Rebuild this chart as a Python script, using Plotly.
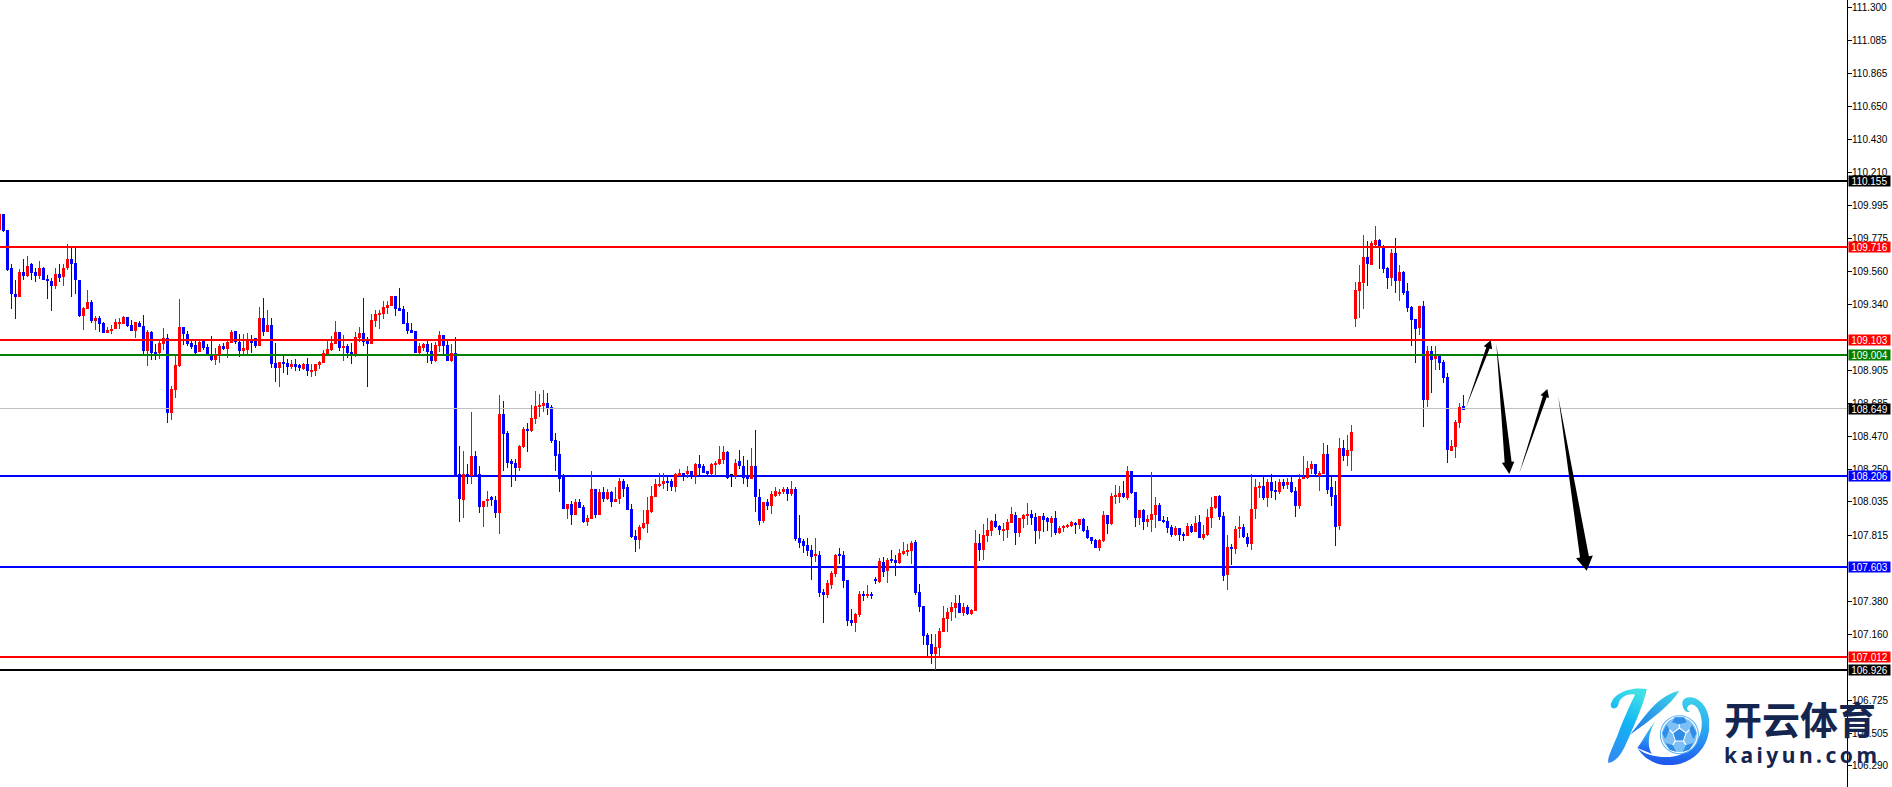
"""USD/JPY style candlestick chart with support and resistance levels and projected path arrows."""

import base64
import math

import plotly.graph_objects as go

WIDTH = 1892
HEIGHT = 787
AXIS_X = 1847

COLORS = {
    "up": "#ff0000",
    "down": "#0000ff",
    "green": "#008000",
    "black": "#000000",
    "silver": "#c0c0c0",
    "brand": "#14264f",
}

opens = [
    109.830, 109.936, 109.830, 109.583, 109.411, 109.389, 109.552, 109.526, 109.605, 109.552,
    109.526, 109.583, 109.504, 109.497, 109.460, 109.543, 109.519, 109.583, 109.643, 109.612,
    109.504, 109.261, 109.307, 109.354, 109.228, 109.248, 109.215, 109.149, 109.162, 109.175,
    109.215, 109.213, 109.255, 109.202, 109.162, 109.215, 109.195, 109.030, 109.155, 109.023,
    109.016, 109.076, 109.116, 108.619, 108.771, 108.930, 109.188, 109.142, 109.082, 109.069,
    109.023, 109.096, 109.056, 108.996, 108.970, 109.007, 109.063, 109.043, 109.082, 109.162,
    109.089, 109.030, 109.036, 109.102, 109.116, 109.063, 109.248, 109.155, 109.202, 108.950,
    108.917, 108.957, 108.950, 108.930, 108.943, 108.937, 108.910, 108.943, 108.897, 108.897,
    108.937, 108.950, 109.010, 109.036, 109.076, 109.155, 109.056, 109.063, 109.023, 109.010,
    109.116, 109.149, 109.096, 109.076, 109.228, 109.274, 109.274, 109.321, 109.327, 109.393,
    109.314, 109.307, 109.215, 109.168, 109.162, 109.016, 109.049, 109.076, 109.030, 108.963,
    109.063, 109.135, 109.069, 108.963, 109.016,
    108.216, 108.050, 108.222, 108.209, 108.335, 108.216, 108.004, 108.044, 108.064, 108.050,
    107.964, 108.613, 108.487, 108.302, 108.289, 108.262, 108.395, 108.514, 108.500, 108.580,
    108.659, 108.666, 108.686, 108.659, 108.441, 108.348, 108.209, 107.991, 108.024, 107.945,
    108.037, 108.004, 107.905, 107.925, 108.123, 107.945, 108.097, 108.057, 108.103, 108.037,
    108.057, 108.176, 108.130, 107.991, 107.812, 107.786, 107.865, 107.892, 107.971, 108.070,
    108.143, 108.150, 108.170, 108.170, 108.130, 108.209, 108.229, 108.216, 108.242, 108.203,
    108.282, 108.269, 108.236, 108.216, 108.276, 108.282, 108.309, 108.362, 108.212, 108.203,
    108.302, 108.275, 108.203, 108.189, 108.275, 108.070, 107.911, 108.031, 108.011, 108.077,
    108.084, 108.097, 108.117, 108.090, 108.123, 107.799, 107.779, 107.753, 107.720, 107.680,
    107.686, 107.442, 107.422, 107.488, 107.561, 107.686, 107.686, 107.521, 107.256, 107.236,
    107.289, 107.428, 107.415, 107.422, 107.528, 107.508, 107.640, 107.581, 107.660, 107.653,
    107.634, 107.693, 107.706,
    107.713, 107.772, 107.441, 107.349, 107.157, 107.097, 107.031, 107.071, 107.177, 107.263,
    107.309, 107.335, 107.369, 107.302, 107.342, 107.296, 107.316, 107.766, 107.719, 107.812,
    107.845, 107.911, 107.878, 107.845, 107.852, 107.898, 107.951, 107.832, 107.924, 107.944,
    107.958, 107.938, 107.845, 107.944, 107.931, 107.898, 107.931, 107.832, 107.865, 107.871,
    107.878, 107.898, 107.885, 107.924, 107.852, 107.805, 107.785, 107.732, 107.779, 107.951,
    107.891, 108.070, 108.070, 108.096, 108.063, 108.242, 108.103, 107.931, 107.984, 107.905,
    107.918, 107.951, 108.017, 107.918, 107.911, 107.871, 107.819, 107.865, 107.825, 107.812,
    107.878, 107.838, 107.905, 107.799, 107.819, 107.931, 107.997, 108.077, 107.944, 107.554,
    107.739, 107.726, 107.858, 107.871, 107.805, 107.759, 107.991, 108.130, 108.143, 108.063,
    108.163, 108.116, 108.103, 108.169, 108.149, 108.169, 108.110, 108.010, 108.189, 108.196,
    108.249, 108.282, 108.209, 108.222, 108.348, 108.130, 108.083, 107.878, 108.388, 108.341,
    108.368,
    109.242, 109.427, 109.480, 109.652, 109.599, 109.731, 109.764, 109.725, 109.579, 109.513,
    109.678, 109.493, 109.553, 109.427, 109.321, 109.242, 109.182, 109.328, 108.706, 109.030,
    108.977, 108.997, 108.957, 108.858, 108.368, 108.395, 108.553, 108.666,
]
highs = [
    109.936, 109.936, 109.830, 109.605, 109.504, 109.572, 109.643, 109.658, 109.612, 109.583,
    109.625, 109.590, 109.537, 109.513, 109.583, 109.605, 109.605, 109.738, 109.716, 109.716,
    109.504, 109.323, 109.438, 109.367, 109.261, 109.261, 109.221, 109.188, 109.202, 109.241,
    109.248, 109.266, 109.255, 109.235, 109.221, 109.228, 109.268, 109.173, 109.162, 109.076,
    109.102, 109.182, 109.142, 108.802, 108.996, 109.374, 109.188, 109.162, 109.096, 109.109,
    109.096, 109.102, 109.076, 109.129, 109.049, 109.076, 109.082, 109.096, 109.168, 109.162,
    109.142, 109.142, 109.149, 109.135, 109.116, 109.321, 109.380, 109.301, 109.248, 109.082,
    108.957, 108.999, 108.977, 108.970, 108.977, 108.943, 108.950, 108.983, 108.943, 108.943,
    108.963, 109.036, 109.102, 109.129, 109.228, 109.155, 109.135, 109.076, 109.082, 109.155,
    109.188, 109.380, 109.122, 109.274, 109.301, 109.301, 109.360, 109.360, 109.393, 109.393,
    109.446, 109.327, 109.288, 109.215, 109.162, 109.082, 109.082, 109.102, 109.082, 109.089,
    109.162, 109.135, 109.102, 109.076, 109.122,
    108.401, 108.368, 108.282, 108.626, 108.368, 108.269, 108.044, 108.110, 108.077, 108.077,
    108.739, 108.699, 108.500, 108.315, 108.315, 108.414, 108.527, 108.553, 108.673, 108.765,
    108.745, 108.772, 108.752, 108.673, 108.487, 108.434, 108.216, 108.024, 108.044, 108.057,
    108.057, 108.017, 107.951, 108.236, 108.123, 108.117, 108.130, 108.123, 108.110, 108.136,
    108.196, 108.189, 108.150, 108.024, 107.852, 107.885, 107.984, 108.064, 108.143, 108.189,
    108.229, 108.223, 108.209, 108.183, 108.223, 108.249, 108.229, 108.269, 108.242, 108.295,
    108.342, 108.282, 108.236, 108.289, 108.302, 108.401, 108.401, 108.368, 108.216, 108.315,
    108.381, 108.335, 108.309, 108.388, 108.507, 108.123, 108.031, 108.057, 108.110, 108.130,
    108.123, 108.130, 108.136, 108.170, 108.130, 107.945, 107.792, 107.799, 107.753, 107.799,
    107.713, 107.462, 107.521, 107.581, 107.693, 107.733, 107.713, 107.521, 107.329, 107.303,
    107.448, 107.448, 107.488, 107.442, 107.541, 107.667, 107.673, 107.667, 107.720, 107.686,
    107.726, 107.772, 107.759,
    107.779, 107.785, 107.494, 107.349, 107.170, 107.163, 107.163, 107.203, 107.349, 107.335,
    107.375, 107.422, 107.422, 107.369, 107.355, 107.329, 107.852, 107.825, 107.891, 107.931,
    107.918, 107.958, 107.885, 107.898, 107.924, 108.004, 107.971, 107.931, 107.958, 108.030,
    107.984, 107.964, 107.944, 107.964, 107.938, 107.944, 107.977, 107.878, 107.885, 107.891,
    107.911, 107.905, 107.924, 107.931, 107.878, 107.805, 107.792, 107.792, 107.977, 107.951,
    108.096, 108.149, 108.143, 108.176, 108.275, 108.242, 108.103, 107.984, 107.991, 107.951,
    108.235, 108.070, 108.030, 107.944, 107.938, 107.885, 107.878, 107.865, 107.838, 107.898,
    107.891, 107.944, 107.951, 107.885, 107.991, 108.070, 108.077, 108.083, 107.971, 107.819,
    107.759, 107.878, 107.944, 107.891, 107.832, 108.222, 108.183, 108.163, 108.209, 108.183,
    108.222, 108.176, 108.183, 108.189, 108.196, 108.202, 108.130, 108.222, 108.341, 108.302,
    108.308, 108.288, 108.242, 108.421, 108.414, 108.202, 108.176, 108.460, 108.441, 108.480,
    108.540,
    109.486, 109.599, 109.798, 109.758, 109.758, 109.857, 109.771, 109.731, 109.586, 109.705,
    109.778, 109.599, 109.559, 109.480, 109.328, 109.242, 109.328, 109.361, 109.063, 109.063,
    109.063, 109.003, 108.970, 108.884, 108.447, 108.573, 108.686, 108.739,
]
lows = [
    109.830, 109.817, 109.559, 109.310, 109.243, 109.389, 109.499, 109.521, 109.499, 109.486,
    109.510, 109.499, 109.376, 109.296, 109.442, 109.486, 109.460, 109.566, 109.389, 109.407,
    109.255, 109.169, 109.307, 109.215, 109.169, 109.155, 109.149, 109.149, 109.146, 109.175,
    109.175, 109.208, 109.188, 109.162, 109.116, 109.188, 109.010, 108.930, 108.970, 108.970,
    108.977, 109.036, 108.553, 108.573, 108.718, 108.924, 109.069, 109.063, 109.047, 109.010,
    109.023, 109.036, 109.003, 108.963, 108.937, 108.950, 109.036, 108.983, 109.082, 109.076,
    108.992, 109.010, 109.010, 109.016, 109.049, 109.063, 109.129, 109.155, 108.917, 108.824,
    108.791, 108.884, 108.871, 108.910, 108.897, 108.897, 108.904, 108.864, 108.857, 108.864,
    108.910, 108.950, 109.010, 109.030, 109.076, 109.030, 108.963, 108.983, 108.943, 108.990,
    109.089, 109.063, 108.791, 109.076, 109.188, 109.175, 109.241, 109.274, 109.327, 109.261,
    109.294, 109.208, 109.142, 109.149, 109.016, 109.010, 109.030, 108.950, 108.943, 108.957,
    109.023, 109.010, 108.963, 108.957, 108.203,
    107.905, 107.931, 108.150, 108.156, 108.203, 107.964, 107.872, 108.004, 108.011, 107.931,
    107.825, 108.242, 108.256, 108.136, 108.170, 108.236, 108.388, 108.362, 108.494, 108.547,
    108.593, 108.626, 108.606, 108.421, 108.242, 108.097, 107.991, 107.925, 107.885, 107.945,
    107.997, 107.898, 107.878, 107.925, 107.931, 107.945, 108.031, 108.050, 108.004, 108.037,
    108.024, 108.064, 107.978, 107.799, 107.706, 107.726, 107.859, 107.832, 107.964, 108.064,
    108.136, 108.123, 108.110, 108.110, 108.097, 108.203, 108.170, 108.196, 108.183, 108.150,
    108.203, 108.223, 108.203, 108.203, 108.209, 108.276, 108.282, 108.183, 108.130, 108.183,
    108.249, 108.156, 108.130, 108.183, 107.971, 107.885, 107.898, 107.978, 107.958, 108.070,
    108.077, 108.084, 108.044, 108.077, 107.779, 107.733, 107.700, 107.680, 107.521, 107.640,
    107.409, 107.236, 107.402, 107.462, 107.541, 107.627, 107.468, 107.217, 107.217, 107.177,
    107.276, 107.382, 107.402, 107.395, 107.495, 107.501, 107.541, 107.501, 107.634, 107.548,
    107.627, 107.686, 107.680,
    107.627, 107.421, 107.309, 107.091, 107.011, 106.965, 106.925, 107.011, 107.177, 107.177,
    107.249, 107.269, 107.302, 107.283, 107.289, 107.289, 107.316, 107.647, 107.653, 107.772,
    107.812, 107.865, 107.819, 107.779, 107.799, 107.898, 107.752, 107.805, 107.865, 107.885,
    107.885, 107.759, 107.792, 107.838, 107.845, 107.805, 107.819, 107.825, 107.838, 107.865,
    107.871, 107.825, 107.858, 107.838, 107.792, 107.759, 107.732, 107.713, 107.772, 107.825,
    107.885, 108.024, 108.030, 108.063, 108.050, 108.090, 107.871, 107.885, 107.852, 107.871,
    107.838, 107.865, 107.911, 107.898, 107.832, 107.805, 107.812, 107.779, 107.779, 107.812,
    107.832, 107.838, 107.799, 107.785, 107.812, 107.865, 107.991, 107.918, 107.514, 107.455,
    107.620, 107.693, 107.799, 107.799, 107.739, 107.719, 107.924, 108.063, 108.050, 108.004,
    108.063, 108.050, 108.090, 108.123, 108.123, 108.096, 107.938, 107.991, 108.183, 108.189,
    108.222, 108.209, 108.110, 108.216, 108.090, 108.010, 107.746, 107.852, 108.308, 108.275,
    108.242,
    109.189, 109.248, 109.308, 109.460, 109.599, 109.725, 109.573, 109.546, 109.440, 109.460,
    109.414, 109.361, 109.400, 109.288, 109.063, 108.950, 109.136, 108.527, 108.659, 108.752,
    108.904, 108.904, 108.818, 108.295, 108.368, 108.322, 108.520, 108.639,
]
closes = [
    109.936, 109.824, 109.570, 109.409, 109.389, 109.557, 109.526, 109.596, 109.548, 109.526,
    109.583, 109.499, 109.495, 109.460, 109.543, 109.513, 109.583, 109.643, 109.605, 109.499,
    109.261, 109.318, 109.354, 109.228, 109.248, 109.208, 109.149, 109.168, 109.180, 109.221,
    109.221, 109.255, 109.195, 109.162, 109.221, 109.188, 109.030, 109.155, 109.016, 109.014,
    109.082, 109.116, 108.619, 108.778, 108.937, 109.188, 109.142, 109.076, 109.056, 109.021,
    109.089, 109.049, 109.010, 108.970, 109.003, 109.063, 109.043, 109.089, 109.155, 109.089,
    109.030, 109.049, 109.102, 109.089, 109.063, 109.248, 109.155, 109.202, 108.943, 108.917,
    108.957, 108.943, 108.924, 108.943, 108.930, 108.917, 108.943, 108.897, 108.904, 108.943,
    108.957, 109.016, 109.043, 109.082, 109.155, 109.049, 109.063, 109.016, 109.010, 109.122,
    109.149, 109.089, 109.076, 109.235, 109.274, 109.281, 109.321, 109.334, 109.393, 109.307,
    109.294, 109.208, 109.162, 109.155, 109.016, 109.063, 109.076, 109.023, 108.963, 109.069,
    109.135, 109.063, 108.963, 109.016, 108.209,
    108.057, 108.216, 108.203, 108.335, 108.203, 108.004, 108.044, 108.053, 108.050, 107.964,
    108.613, 108.481, 108.295, 108.289, 108.262, 108.401, 108.514, 108.500, 108.587, 108.666,
    108.673, 108.686, 108.653, 108.434, 108.335, 108.183, 107.991, 108.024, 107.945, 108.037,
    107.997, 107.905, 107.931, 108.123, 107.945, 108.097, 108.057, 108.103, 108.037, 108.057,
    108.176, 108.123, 107.984, 107.806, 107.786, 107.872, 107.898, 107.978, 108.077, 108.150,
    108.156, 108.170, 108.163, 108.130, 108.216, 108.229, 108.216, 108.242, 108.203, 108.282,
    108.262, 108.229, 108.216, 108.282, 108.295, 108.315, 108.362, 108.196, 108.212, 108.295,
    108.269, 108.196, 108.189, 108.275, 108.064, 107.911, 108.031, 108.011, 108.084, 108.110,
    108.103, 108.117, 108.090, 108.123, 107.792, 107.766, 107.746, 107.713, 107.673, 107.686,
    107.435, 107.422, 107.501, 107.567, 107.686, 107.680, 107.514, 107.250, 107.236, 107.296,
    107.428, 107.415, 107.428, 107.415, 107.514, 107.647, 107.574, 107.653, 107.647, 107.634,
    107.700, 107.713, 107.720,
    107.766, 107.435, 107.342, 107.150, 107.091, 107.031, 107.077, 107.183, 107.269, 107.309,
    107.342, 107.369, 107.302, 107.342, 107.296, 107.322, 107.766, 107.719, 107.819, 107.852,
    107.911, 107.872, 107.852, 107.858, 107.905, 107.958, 107.832, 107.931, 107.951, 107.951,
    107.931, 107.845, 107.944, 107.918, 107.905, 107.931, 107.832, 107.865, 107.878, 107.885,
    107.905, 107.885, 107.924, 107.845, 107.799, 107.779, 107.732, 107.785, 107.951, 107.891,
    108.077, 108.077, 108.096, 108.070, 108.242, 108.096, 107.931, 107.984, 107.905, 107.924,
    107.958, 108.017, 107.911, 107.905, 107.865, 107.819, 107.865, 107.819, 107.812, 107.878,
    107.838, 107.898, 107.799, 107.825, 107.938, 108.004, 108.077, 107.938, 107.547, 107.739,
    107.726, 107.858, 107.871, 107.805, 107.759, 107.991, 108.136, 108.143, 108.063, 108.163,
    108.110, 108.103, 108.169, 108.143, 108.169, 108.103, 108.010, 108.189, 108.196, 108.262,
    108.288, 108.216, 108.229, 108.348, 108.116, 108.070, 107.871, 108.388, 108.341, 108.375,
    108.494,
    109.434, 109.486, 109.652, 109.606, 109.745, 109.764, 109.725, 109.573, 109.513, 109.678,
    109.493, 109.553, 109.414, 109.314, 109.235, 109.175, 109.328, 108.706, 109.030, 108.970,
    108.997, 108.950, 108.851, 108.375, 108.401, 108.560, 108.659, 108.639,
]

level_values = [110.155, 109.716, 109.103, 109.004, 108.206, 107.603, 107.012, 106.926]
level_colors = ["black", "up", "up", "green", "down", "down", "up", "black"]
bid_price = 108.649

# 109.125, 107.600 and 106.945 sit fully behind the level boxes, so they are not listed
tick_labels = [
    "111.300", "111.085", "110.865", "110.650", "110.430", "110.210", "109.995", "109.775",
    "109.560", "109.340", "108.905", "108.685", "108.470", "108.250", "108.035",
    "107.815", "107.380", "107.160", "106.725", "106.505", "106.290",
]


def to_paper(x, y):
    return x / WIDTH, 1 - y / HEIGHT


def arrow_path(start, tip, shaft, head_len, head_width):
    """Tapered arrow: a point at the start, widening up to the head."""
    dx, dy = tip[0] - start[0], tip[1] - start[1]
    length = math.hypot(dx, dy)
    ux, uy = dx / length, dy / length
    nx, ny = -uy, ux
    bx, by = tip[0] - ux * head_len, tip[1] - uy * head_len
    points = [
        start,
        (bx + nx * shaft / 2, by + ny * shaft / 2),
        (bx + nx * head_width / 2, by + ny * head_width / 2),
        tip,
        (bx - nx * head_width / 2, by - ny * head_width / 2),
        (bx - nx * shaft / 2, by - ny * shaft / 2),
    ]
    coords = [to_paper(px, py) for px, py in points]
    return "M " + " L ".join(f"{a:.5f} {b:.5f}" for a, b in coords) + " Z"


def candle_traces(indices, color, yaxis="y"):
    """Candles as two bar traces: Candlestick gives no control over the 3px body."""
    wick = go.Bar(
        x=indices,
        y=[highs[i] - lows[i] for i in indices],
        base=[lows[i] for i in indices],
        width=0.25,
        marker=dict(color=color, line=dict(width=0)),
        showlegend=False,
        yaxis=yaxis,
    )
    body = go.Bar(
        x=indices,
        y=[abs(closes[i] - opens[i]) or 0.004 for i in indices],
        base=[min(opens[i], closes[i]) for i in indices],
        width=0.75,
        marker=dict(color=color, line=dict(width=0)),
        showlegend=False,
        yaxis=yaxis,
    )
    return [wick, body]


bars = list(range(len(opens)))
up_bars = [i for i in bars if closes[i] > opens[i]]
down_bars = [i for i in bars if closes[i] < opens[i]]
flat_bars = [i for i in bars if closes[i] == opens[i]]

x_min = 0.125
x_max = (AXIS_X + 0.5) / 4
y_min = 106.151
y_max = 111.351

fig = go.Figure()

# blue candles sit under the level lines, red ones over them
fig.add_traces(candle_traces(down_bars, COLORS["down"]))
fig.add_traces(candle_traces(flat_bars, COLORS["black"]))

fig.add_trace(
    go.Scatter(
        x=[x_min, x_max],
        y=[bid_price, bid_price],
        mode="lines",
        line=dict(color=COLORS["silver"], width=1),
        showlegend=False,
    )
)
for value, color in zip(level_values, level_colors):
    fig.add_trace(
        go.Scatter(
            x=[x_min, x_max],
            y=[value, value],
            mode="lines",
            line=dict(color=COLORS[color], width=2),
            showlegend=False,
        )
    )

fig.add_traces(candle_traces(up_bars, COLORS["up"], yaxis="y2"))

# price boxes on the axis
label_x = (AXIS_X + 22) / WIDTH
annotations = []
for value, color in list(zip(level_values, level_colors)) + [(bid_price, "black")]:
    annotations.append(
        dict(
            x=label_x,
            xref="paper",
            xanchor="center",
            y=value,
            yref="y",
            yanchor="middle",
            text=f"{value:.3f}",
            showarrow=False,
            font=dict(family="Liberation Sans", size=10, color="white"),
            bgcolor=COLORS[color],
            width=41,
            height=10,
            borderpad=0,
        )
    )

# watermark logo
LOGO_SVG = """<svg xmlns="http://www.w3.org/2000/svg" viewBox="80 865 308 232">
<defs>
<linearGradient id="a" x1="0.6" y1="0" x2="0.3" y2="1"><stop offset="0" stop-color="#3fe0e6"/><stop offset="0.45" stop-color="#12b4f5"/><stop offset="1" stop-color="#2f8cf0"/></linearGradient>
<linearGradient id="b" x1="1" y1="0" x2="0" y2="1"><stop offset="0" stop-color="#3fd8e8"/><stop offset="1" stop-color="#1a6fe8"/></linearGradient>
<linearGradient id="c" x1="0.6" y1="0" x2="0.5" y2="1"><stop offset="0" stop-color="#3cd0ea"/><stop offset="0.5" stop-color="#2aa0f2"/><stop offset="1" stop-color="#1f55ee"/></linearGradient>
</defs>
<path fill="url(#a)" d="M92 915C100 880 150 860 200 868C195 900 170 960 150 1005C135 1040 118 1085 85 1090C80 1075 100 1040 115 1000C130 960 150 915 165 885C140 880 118 895 115 915C110 930 92 930 92 915Z"/>
<path fill="url(#b)" d="M150 1005C190 960 225 890 297 873C280 905 235 945 150 1005Z"/>
<path fill="url(#c)" d="M310 900C330 880 385 900 388 970C390 1050 330 1097 265 1097C225 1097 190 1075 172 1045C185 1060 225 1075 270 1072C330 1068 368 1020 365 965C362 930 345 910 330 915C318 920 318 935 330 935C315 945 300 915 310 900Z"/>
<path fill="url(#c)" d="M172 1045C190 1020 205 990 225 965C205 1000 200 1040 215 1062Z"/>
<circle cx="298" cy="1005" r="57" fill="#ffffff" stroke="#58b4f5" stroke-width="3"/>
<circle cx="298" cy="1005" r="52" fill="#7cc0f5"/>
<path fill="#2f8de8" stroke="#ffffff" stroke-width="3" d="M298 985L318 1000L310 1024L286 1024L278 1000Z"/>
<g fill="#2f8de8"><path d="M284 953L312 953L320 968L298 974L276 968Z"/><path d="M336 975L350 1000L340 1018L328 990Z"/><path d="M318 1036L340 1030L328 1050L308 1056Z"/><path d="M278 1036L288 1056L268 1050L256 1030Z"/><path d="M260 975L268 990L256 1018L246 1000Z"/></g>
<g stroke="#ffffff" stroke-width="4" fill="none"><path d="M298 985L298 974M318 1000L328 990M310 1024L318 1036M286 1024L278 1036M278 1000L268 990"/></g>
</svg>"""
logo_uri = "data:image/svg+xml;base64," + base64.b64encode(LOGO_SVG.encode()).decode()

annotations.append(
    dict(
        x=1800 / WIDTH,
        xref="paper",
        xanchor="center",
        y=1 - 717 / HEIGHT,
        yref="paper",
        yanchor="middle",
        text="<b>开云体育</b>",
        showarrow=False,
        font=dict(family="Noto Sans CJK SC", size=38, color=COLORS["brand"]),
    )
)
annotations.append(
    dict(
        x=1800 / WIDTH,
        xref="paper",
        xanchor="center",
        y=1 - 755 / HEIGHT,
        yref="paper",
        yanchor="middle",
        text="<b>k\u2009a\u2009i\u2009y\u2009u\u2009n\u2009.\u2009c\u2009o\u2009m</b>",
        showarrow=False,
        font=dict(family="Noto Sans", size=21, color=COLORS["brand"]),
    )
)

# projected path
arrow_starts = [(1465.7, 408.3), (1496.3, 343.3), (1519.3, 473.3), (1558.3, 396.7)]
arrow_tips = [(1490.7, 340.3), (1509.3, 474.0), (1547.3, 389.0), (1586.7, 570.7)]
arrow_shafts = [3.5, 7, 4, 9]
arrow_heads = [8, 12, 8, 14]
arrow_widths = [9, 12.5, 9, 17]

shapes = [
    dict(
        type="path",
        xref="paper",
        yref="paper",
        path=arrow_path(s, t, w, h, hw),
        fillcolor="black",
        line=dict(width=0),
        layer="above",
    )
    for s, t, w, h, hw in zip(arrow_starts, arrow_tips, arrow_shafts, arrow_heads, arrow_widths)
]

fig.update_layout(
    width=WIDTH,
    height=HEIGHT,
    margin=dict(l=0, r=0, t=0, b=0),
    paper_bgcolor="white",
    plot_bgcolor="white",
    showlegend=False,
    barmode="overlay",
    xaxis=dict(
        domain=[0, AXIS_X / WIDTH],
        range=[x_min, x_max],
        visible=False,
    ),
    yaxis=dict(
        range=[y_min, y_max],
        side="right",
        showgrid=False,
        zeroline=False,
        showline=True,
        linecolor="black",
        linewidth=1,
        ticks="outside",
        ticklen=4,
        tickcolor="black",
        tickwidth=1,
        tickvals=[float(t) for t in tick_labels],
        ticktext=tick_labels,
        tickfont=dict(family="Liberation Sans", size=10, color="black"),
        ticklabelstandoff=-2,
    ),
    yaxis2=dict(range=[y_min, y_max], overlaying="y", visible=False),
    annotations=annotations,
    shapes=shapes,
    images=[
        dict(
            source=logo_uri,
            xref="paper",
            yref="paper",
            x=1606.7 / WIDTH,
            y=1 - 688 / HEIGHT,
            sizex=102.7 / WIDTH,
            sizey=77.3 / HEIGHT,
            xanchor="left",
            yanchor="top",
            layer="above",
            sizing="stretch",
        )
    ],
)

# the page's default body margin would push the plot 8px in from the corner;
# crisp edges give the hard pixel look of the terminal's candles and lines
page_script = """
document.body.style.margin = '0';
document.body.style.overflow = 'hidden';
document.head.insertAdjacentHTML('beforeend',
  '<style>.scatterlayer .js-line, .barlayer path {shape-rendering: crispEdges;}</style>');
"""

fig.write_html("out.html", config=dict(displayModeBar=False), post_script=page_script)
